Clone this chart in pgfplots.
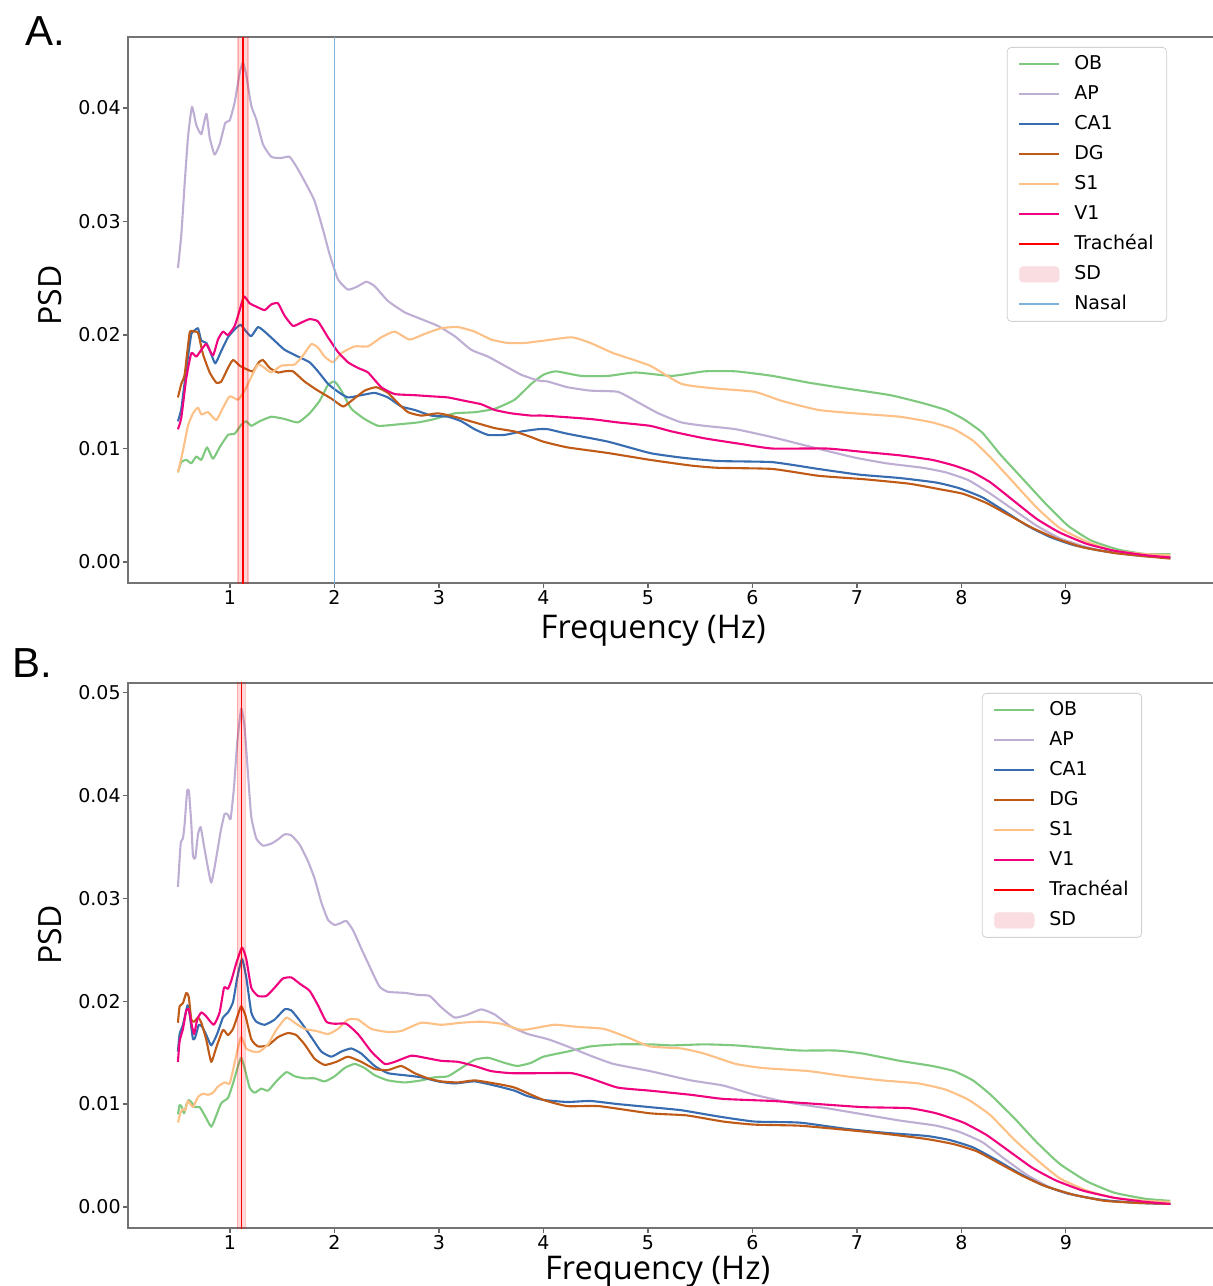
\documentclass[border=0pt]{standalone}
\usepackage{fontspec}
\setmainfont{DejaVu Sans}
\newfontfamily\labelfont{Open Sans}
\newfontfamily\panelfont{Liberation Sans}
\usepackage{pgfplots}
\pgfplotsset{compat=1.18}
\definecolor{cOB}{HTML}{7FC97F}
\definecolor{cAP}{HTML}{BEAED4}
\definecolor{cCA}{HTML}{386CB0}
\definecolor{cDG}{HTML}{BF5B17}
\definecolor{cSI}{HTML}{FDC086}
\definecolor{cVI}{HTML}{F0027F}
\definecolor{cNas}{HTML}{7DB2DC}
\definecolor{cSD}{RGB}{249,221,224}
\pgfplotsset{
 psd/.style={
  scale only axis, width=546pt, xmin=0.024, xmax=10.475,
  xtick={1,2,3,4,5,6,7,8,9},
  axis line style={black!55, line width=0.7pt},
  tick style={black!60, line width=0.6pt},
  major tick length=2.5pt, tick align=outside, xtick pos=bottom, ytick pos=left,
  tick label style={font=\fontsize{9.5}{11}\selectfont, inner sep=1pt},
  /pgf/number format/assume math mode=true,
  scaled y ticks=false,
  yticklabel style={/pgf/number format/fixed, /pgf/number format/fixed zerofill, /pgf/number format/precision=2},
  xlabel={Frequency (Hz)}, ylabel={PSD},
  legend cell align=left,
  legend style={font=\fontsize{9.5}{11}\selectfont, draw=black!18, rounded corners=2pt, fill=white, anchor=north east,
    inner xsep=5.5pt, inner ysep=3pt, row sep=4pt, column sep=6pt,
    nodes={inner sep=1pt, text height=7pt, text depth=2pt}},
  legend image code/.code={\draw[#1, line width=1pt] (0pt,0pt) -- (20pt,0pt);},
  every axis plot/.append style={line width=1.05pt, line join=round},
 },
 ser/.style={#1, smooth, tension=0.3},
 vline/.style={#1, line width=0.75pt},
}
\begin{document}
\begin{tikzpicture}
\path[use as bounding box] (-64pt,-351.5pt) rectangle (542pt,291.5pt);
\node[font=\panelfont\fontsize{21}{24}\selectfont, anchor=base west, inner sep=0pt] at (-51.5pt,268.5pt) {A.};
\node[font=\panelfont\fontsize{21}{24}\selectfont, anchor=base west, inner sep=0pt] at (-58pt,-47pt) {B.};
% ---------------- Panel A
\begin{axis}[psd, at={(0pt,0pt)}, anchor=south west, height=273pt,
  ymin=-0.00185, ymax=0.04626, ytick={0,0.01,0.02,0.03,0.04},
  every axis x label/.style={at={(axis description cs:0.481,0)}, anchor=base, yshift=-27.5pt, inner sep=0pt, font=\labelfont\fontsize{16.3}{19}\selectfont},
  every axis y label/.style={at={(axis description cs:-0.0714,0.527)}, rotate=90, anchor=center, font=\labelfont\fontsize{16}{19}\selectfont},
  legend style={at={(axis description cs:0.9515,0.9817)}}]
\addplot[ser=cOB] coordinates {(0.502,0.0079)(0.534,0.0088)(0.582,0.0090)(0.630,0.0087)(0.678,0.0093)(0.726,0.0090)(0.780,0.0101)(0.837,0.0091)(0.901,0.0101)(0.981,0.0112)(1.045,0.0113)(1.108,0.0121)(1.156,0.0124)(1.204,0.0120)(1.284,0.0124)(1.396,0.0128)(1.523,0.0126)(1.651,0.0123)(1.762,0.0131)(1.858,0.0142)(1.938,0.0156)(2.002,0.0159)(2.066,0.0151)(2.162,0.0135)(2.289,0.0126)(2.417,0.0120)(2.576,0.0121)(2.799,0.0123)(2.959,0.0126)(3.150,0.0131)(3.341,0.0132)(3.533,0.0135)(3.724,0.0143)(3.884,0.0157)(4.0,0.0165)(4.12,0.0168)(4.36,0.0164)(4.62,0.0164)(4.88,0.0167)(5.23,0.0164)(5.54,0.0168)(5.84,0.0168)(6.19,0.0164)(6.54,0.0158)(6.89,0.0153)(7.32,0.0147)(7.63,0.0140)(7.85,0.0134)(8.02,0.0126)(8.20,0.0114)(8.37,0.0095)(8.59,0.0073)(8.81,0.0051)(9.02,0.0032)(9.24,0.0019)(9.50,0.0011)(9.76,0.0007)(10.0,0.0007)};
\addlegendentry{OB}
\addplot[ser=cAP] coordinates {(0.502,0.0259)(0.534,0.0288)(0.566,0.0333)(0.598,0.0374)(0.636,0.0401)(0.678,0.0385)(0.726,0.0377)(0.774,0.0395)(0.806,0.0374)(0.853,0.0359)(0.901,0.0368)(0.955,0.0387)(0.997,0.0389)(1.045,0.0405)(1.093,0.0431)(1.124,0.0440)(1.156,0.0429)(1.204,0.0402)(1.252,0.0390)(1.316,0.0368)(1.396,0.0357)(1.491,0.0356)(1.571,0.0357)(1.651,0.0346)(1.746,0.0330)(1.810,0.0318)(1.890,0.0293)(1.954,0.0271)(2.034,0.0249)(2.129,0.0240)(2.225,0.0243)(2.305,0.0247)(2.385,0.0243)(2.512,0.0230)(2.672,0.0220)(2.831,0.0214)(2.991,0.0208)(3.150,0.0199)(3.309,0.0187)(3.469,0.0181)(3.628,0.0173)(3.788,0.0165)(3.947,0.0160)(4.043,0.0159)(4.23,0.0154)(4.45,0.0151)(4.71,0.0150)(4.88,0.0142)(5.10,0.0131)(5.32,0.0123)(5.54,0.0120)(5.84,0.0117)(6.19,0.0110)(6.45,0.0104)(6.71,0.0098)(6.98,0.0092)(7.28,0.0087)(7.63,0.0083)(7.85,0.0079)(8.07,0.0072)(8.28,0.0060)(8.50,0.0046)(8.72,0.0032)(8.94,0.0021)(9.20,0.0013)(9.46,0.0008)(9.76,0.0005)(10.0,0.0004)};
\addlegendentry{AP}
\addplot[ser=cCA] coordinates {(0.502,0.0124)(0.534,0.0135)(0.582,0.0170)(0.630,0.0201)(0.662,0.0204)(0.694,0.0206)(0.726,0.0195)(0.774,0.0193)(0.821,0.0183)(0.86,0.0175)(0.917,0.0186)(0.981,0.0198)(1.045,0.0205)(1.102,0.0209)(1.156,0.0203)(1.204,0.0199)(1.268,0.0207)(1.332,0.0203)(1.427,0.0195)(1.523,0.0187)(1.651,0.0181)(1.762,0.0176)(1.842,0.0168)(1.938,0.0157)(2.034,0.0150)(2.129,0.0145)(2.257,0.0147)(2.385,0.0149)(2.512,0.0145)(2.640,0.0137)(2.767,0.0134)(2.927,0.0129)(3.086,0.0128)(3.214,0.0124)(3.341,0.0117)(3.469,0.0112)(3.628,0.0112)(3.788,0.0115)(3.947,0.0117)(4.043,0.0117)(4.23,0.0113)(4.62,0.0106)(5.02,0.0096)(5.32,0.0092)(5.67,0.0089)(6.19,0.0088)(6.63,0.0082)(7.02,0.0077)(7.41,0.0074)(7.76,0.0070)(7.98,0.0065)(8.20,0.0057)(8.41,0.0045)(8.63,0.0032)(8.85,0.0022)(9.07,0.0015)(9.33,0.0010)(9.68,0.0006)(10.0,0.0004)};
\addlegendentry{CA1}
\addplot[ser=cDG] coordinates {(0.502,0.0145)(0.534,0.0157)(0.566,0.0165)(0.614,0.0202)(0.654,0.0203)(0.694,0.0202)(0.742,0.0183)(0.806,0.0167)(0.869,0.0158)(0.917,0.0159)(0.981,0.0171)(1.029,0.0178)(1.093,0.0173)(1.156,0.0170)(1.22,0.0168)(1.276,0.0176)(1.316,0.0178)(1.38,0.0171)(1.459,0.0167)(1.523,0.0168)(1.603,0.0168)(1.714,0.0159)(1.842,0.0151)(1.97,0.0144)(2.082,0.0137)(2.162,0.0142)(2.289,0.0151)(2.401,0.0154)(2.512,0.0149)(2.608,0.0140)(2.704,0.0132)(2.831,0.0129)(2.991,0.0131)(3.150,0.0128)(3.341,0.0123)(3.533,0.0118)(3.724,0.0115)(3.884,0.0110)(4.0,0.0106)(4.23,0.0101)(4.62,0.0096)(5.02,0.0090)(5.41,0.0085)(5.67,0.0083)(6.19,0.0082)(6.63,0.0076)(7.06,0.0073)(7.50,0.0069)(7.80,0.0064)(8.02,0.0060)(8.24,0.0052)(8.46,0.0041)(8.68,0.0030)(8.90,0.0021)(9.16,0.0013)(9.46,0.0008)(9.76,0.0005)(10.0,0.0003)};
\addlegendentry{DG}
\addplot[ser=cSI] coordinates {(0.502,0.0079)(0.55,0.0098)(0.598,0.0120)(0.646,0.0131)(0.694,0.0136)(0.726,0.0130)(0.79,0.0132)(0.869,0.0125)(0.933,0.0136)(0.997,0.0146)(1.077,0.0143)(1.14,0.0151)(1.204,0.0163)(1.268,0.0174)(1.332,0.0171)(1.396,0.0167)(1.491,0.0173)(1.619,0.0174)(1.699,0.0182)(1.778,0.0192)(1.842,0.0189)(1.906,0.0181)(1.986,0.0176)(2.066,0.0184)(2.193,0.0190)(2.321,0.0190)(2.448,0.0198)(2.576,0.0203)(2.719,0.0196)(2.863,0.0201)(3.022,0.0206)(3.182,0.0207)(3.341,0.0203)(3.5,0.0196)(3.66,0.0193)(3.82,0.0193)(4.0,0.0195)(4.27,0.0198)(4.45,0.0193)(4.67,0.0184)(5.02,0.0173)(5.32,0.0157)(5.63,0.0153)(6.02,0.0150)(6.28,0.0142)(6.63,0.0134)(6.98,0.0131)(7.41,0.0128)(7.72,0.0123)(7.93,0.0117)(8.11,0.0107)(8.28,0.0092)(8.50,0.0070)(8.72,0.0048)(8.94,0.0030)(9.20,0.0018)(9.46,0.0010)(9.76,0.0007)(10.0,0.0006)};
\addlegendentry{S1}
\addplot[ser=cVI] coordinates {(0.502,0.0117)(0.534,0.0127)(0.582,0.0162)(0.630,0.0184)(0.678,0.0181)(0.726,0.0187)(0.774,0.0192)(0.837,0.0182)(0.885,0.0196)(0.933,0.0203)(0.981,0.0200)(1.045,0.0208)(1.093,0.0222)(1.134,0.0234)(1.188,0.0228)(1.252,0.0225)(1.332,0.0222)(1.396,0.0227)(1.459,0.0228)(1.523,0.0217)(1.603,0.0208)(1.683,0.0211)(1.762,0.0214)(1.842,0.0212)(1.938,0.0198)(2.034,0.0185)(2.129,0.0176)(2.225,0.0171)(2.321,0.0167)(2.448,0.0154)(2.576,0.0148)(2.767,0.0147)(2.927,0.0146)(3.086,0.0145)(3.246,0.0142)(3.405,0.0139)(3.533,0.0134)(3.692,0.0131)(3.884,0.0129)(4.0,0.0129)(4.45,0.0126)(4.71,0.0123)(5.02,0.0120)(5.23,0.0115)(5.54,0.0109)(5.89,0.0104)(6.19,0.0100)(6.71,0.0100)(7.06,0.0097)(7.41,0.0094)(7.72,0.0090)(7.93,0.0085)(8.11,0.0079)(8.28,0.0070)(8.50,0.0054)(8.72,0.0038)(8.94,0.0026)(9.20,0.0016)(9.46,0.0010)(9.76,0.0006)(10.0,0.0004)};
\addlegendentry{V1}
\addplot[vline=red] coordinates {(1.125,-0.01)(1.125,0.06)};
\addlegendentry{Trachéal}
\addplot[fill=red, fill opacity=0.15, draw=red, draw opacity=0.22, line width=0.6pt,
  legend image code/.code={\fill[cSD, fill opacity=1] (0pt,-4pt) rectangle (20pt,4pt);}]
  coordinates {(1.077,-0.01)(1.077,0.06)(1.172,0.06)(1.172,-0.01)} -- cycle;
\addlegendentry{SD}
\addplot[vline=cNas] coordinates {(2.0,-0.01)(2.0,0.06)};
\addlegendentry{Nasal}
\end{axis}
% ---------------- Panel B
\begin{axis}[psd, at={(0pt,-322.5pt)}, anchor=south west, height=272.5pt,
  ymin=-0.00204, ymax=0.0509, ytick={0,0.01,0.02,0.03,0.04,0.05},
  every axis x label/.style={at={(axis description cs:0.485,0)}, anchor=base, yshift=-25.5pt, inner sep=0pt, font=\labelfont\fontsize{16.3}{19}\selectfont},
  every axis y label/.style={at={(axis description cs:-0.0714,0.538)}, rotate=90, anchor=center, font=\labelfont\fontsize{16}{19}\selectfont},
  legend style={at={(axis description cs:0.9286,0.9817)}}]
\addplot[ser=cOB] coordinates {(0.502,0.0090)(0.518,0.0099)(0.54,0.0097)(0.56,0.0091)(0.582,0.0099)(0.606,0.0104)(0.638,0.0101)(0.662,0.0097)(0.71,0.0097)(0.758,0.0089)(0.821,0.0078)(0.869,0.0089)(0.917,0.0101)(0.981,0.0106)(1.029,0.0120)(1.077,0.0137)(1.108,0.0145)(1.14,0.0135)(1.188,0.0116)(1.236,0.0111)(1.3,0.0115)(1.364,0.0113)(1.443,0.0122)(1.539,0.0131)(1.619,0.0127)(1.714,0.0125)(1.81,0.0125)(1.906,0.0122)(2.002,0.0127)(2.097,0.0135)(2.193,0.0139)(2.289,0.0135)(2.385,0.0128)(2.512,0.0123)(2.672,0.0121)(2.831,0.0123)(2.959,0.0126)(3.086,0.0127)(3.214,0.0135)(3.341,0.0143)(3.469,0.0145)(3.628,0.0140)(3.75,0.0137)(3.88,0.0140)(4.0,0.0146)(4.23,0.0151)(4.45,0.0156)(4.71,0.0158)(5.02,0.0158)(5.23,0.0157)(5.54,0.0158)(5.84,0.0157)(6.19,0.0154)(6.45,0.0152)(6.80,0.0152)(7.06,0.0149)(7.41,0.0142)(7.72,0.0137)(7.93,0.0132)(8.11,0.0123)(8.28,0.0109)(8.50,0.0087)(8.72,0.0063)(8.94,0.0042)(9.20,0.0025)(9.46,0.0014)(9.76,0.0008)(10.0,0.0006)};
\addlegendentry{OB}
\addplot[ser=cAP] coordinates {(0.502,0.0311)(0.528,0.0353)(0.55,0.0358)(0.566,0.0372)(0.59,0.0404)(0.608,0.0403)(0.63,0.0372)(0.646,0.0341)(0.668,0.0339)(0.694,0.0362)(0.719,0.0369)(0.751,0.0351)(0.79,0.0329)(0.821,0.0315)(0.86,0.0334)(0.911,0.0365)(0.949,0.0382)(0.981,0.0381)(1.006,0.0377)(1.038,0.0407)(1.07,0.0452)(1.108,0.0484)(1.14,0.0466)(1.172,0.0421)(1.204,0.0379)(1.252,0.0358)(1.316,0.0351)(1.396,0.0353)(1.459,0.0357)(1.523,0.0362)(1.587,0.0361)(1.667,0.0352)(1.746,0.0336)(1.81,0.0319)(1.874,0.0296)(1.938,0.0279)(2.002,0.0274)(2.066,0.0276)(2.113,0.0278)(2.177,0.0269)(2.257,0.0251)(2.353,0.0230)(2.432,0.0214)(2.512,0.0209)(2.672,0.0208)(2.799,0.0206)(2.911,0.0205)(3.022,0.0194)(3.150,0.0184)(3.278,0.0187)(3.405,0.0192)(3.533,0.0187)(3.692,0.0175)(3.852,0.0168)(4.043,0.0163)(4.23,0.0156)(4.45,0.0147)(4.67,0.0139)(5.02,0.0132)(5.41,0.0123)(5.72,0.0118)(6.02,0.0109)(6.37,0.0101)(6.71,0.0096)(7.06,0.0090)(7.41,0.0084)(7.76,0.0079)(7.98,0.0073)(8.20,0.0063)(8.41,0.0047)(8.63,0.0031)(8.85,0.0019)(9.11,0.0011)(9.42,0.0006)(9.76,0.0004)(10.0,0.0003)};
\addlegendentry{AP}
\addplot[ser=cCA] coordinates {(0.502,0.0151)(0.518,0.0168)(0.55,0.0177)(0.594,0.0196)(0.614,0.0187)(0.646,0.0163)(0.668,0.0165)(0.702,0.0177)(0.734,0.0175)(0.774,0.0167)(0.821,0.0157)(0.877,0.0168)(0.933,0.0184)(0.981,0.0189)(1.029,0.0199)(1.07,0.0223)(1.115,0.0241)(1.156,0.0223)(1.204,0.0189)(1.252,0.0180)(1.332,0.0177)(1.427,0.0182)(1.523,0.0192)(1.587,0.0191)(1.683,0.0179)(1.778,0.0165)(1.874,0.0151)(1.97,0.0146)(2.066,0.0151)(2.161,0.0154)(2.257,0.0149)(2.385,0.0137)(2.512,0.0130)(2.672,0.0128)(2.831,0.0126)(2.991,0.0122)(3.150,0.0120)(3.341,0.0122)(3.533,0.0118)(3.724,0.0113)(3.84,0.0108)(4.0,0.0104)(4.23,0.0102)(4.45,0.0103)(4.71,0.0100)(5.02,0.0097)(5.32,0.0094)(5.67,0.0088)(6.02,0.0083)(6.45,0.0082)(6.89,0.0076)(7.28,0.0072)(7.67,0.0069)(7.89,0.0065)(8.11,0.0058)(8.33,0.0046)(8.55,0.0033)(8.76,0.0022)(9.02,0.0013)(9.33,0.0007)(9.68,0.0004)(10.0,0.0003)};
\addlegendentry{CA1}
\addplot[ser=cDG] coordinates {(0.502,0.0179)(0.518,0.0195)(0.55,0.0198)(0.582,0.0208)(0.606,0.0204)(0.63,0.0182)(0.657,0.0180)(0.694,0.0184)(0.726,0.0179)(0.774,0.0162)(0.821,0.0141)(0.869,0.0155)(0.933,0.0172)(0.981,0.0167)(1.029,0.0173)(1.077,0.0187)(1.108,0.0195)(1.148,0.0186)(1.204,0.0163)(1.268,0.0156)(1.364,0.0157)(1.459,0.0165)(1.555,0.0169)(1.635,0.0167)(1.714,0.0158)(1.81,0.0144)(1.906,0.0138)(2.018,0.0141)(2.129,0.0146)(2.257,0.0141)(2.385,0.0134)(2.512,0.0133)(2.640,0.0137)(2.767,0.0130)(2.895,0.0125)(3.022,0.0122)(3.182,0.0121)(3.341,0.0123)(3.533,0.0120)(3.724,0.0116)(4.0,0.0104)(4.23,0.0098)(4.53,0.0098)(5.02,0.0091)(5.37,0.0089)(5.72,0.0083)(6.02,0.0080)(6.45,0.0079)(6.89,0.0075)(7.28,0.0071)(7.67,0.0066)(7.93,0.0061)(8.15,0.0054)(8.37,0.0042)(8.59,0.0030)(8.81,0.0020)(9.07,0.0012)(9.37,0.0006)(9.68,0.0004)(10.0,0.0003)};
\addlegendentry{DG}
\addplot[ser=cSI] coordinates {(0.502,0.0082)(0.528,0.0092)(0.55,0.0095)(0.574,0.0094)(0.598,0.0103)(0.646,0.0097)(0.694,0.0107)(0.742,0.0110)(0.79,0.0109)(0.837,0.0111)(0.885,0.0117)(0.949,0.0121)(0.997,0.0120)(1.038,0.0137)(1.077,0.0155)(1.108,0.0165)(1.156,0.0154)(1.22,0.0151)(1.284,0.0151)(1.364,0.0158)(1.443,0.0172)(1.539,0.0184)(1.619,0.0179)(1.714,0.0173)(1.826,0.0171)(1.938,0.0168)(2.034,0.0173)(2.129,0.0182)(2.225,0.0182)(2.353,0.0173)(2.512,0.0170)(2.640,0.0171)(2.831,0.0179)(3.022,0.0177)(3.214,0.0179)(3.405,0.0180)(3.596,0.0178)(3.80,0.0172)(4.10,0.0177)(4.32,0.0175)(4.58,0.0173)(4.80,0.0165)(5.02,0.0156)(5.32,0.0154)(5.54,0.0149)(5.84,0.0139)(6.10,0.0135)(6.54,0.0132)(6.89,0.0127)(7.24,0.0123)(7.59,0.0120)(7.85,0.0114)(8.07,0.0104)(8.28,0.0089)(8.50,0.0066)(8.72,0.0046)(8.94,0.0028)(9.20,0.0016)(9.46,0.0009)(9.76,0.0006)(10.0,0.0005)};
\addlegendentry{S1}
\addplot[ser=cVI] coordinates {(0.502,0.0141)(0.518,0.0161)(0.55,0.0173)(0.582,0.0191)(0.606,0.0192)(0.63,0.0179)(0.657,0.0168)(0.686,0.0182)(0.726,0.0189)(0.774,0.0185)(0.845,0.0177)(0.901,0.0189)(0.943,0.0213)(0.981,0.0212)(1.013,0.0220)(1.061,0.0237)(1.115,0.0252)(1.156,0.0241)(1.204,0.0213)(1.268,0.0205)(1.348,0.0205)(1.427,0.0213)(1.507,0.0222)(1.587,0.0223)(1.667,0.0217)(1.762,0.0210)(1.842,0.0196)(1.922,0.0180)(2.002,0.0178)(2.113,0.0178)(2.225,0.0168)(2.353,0.0151)(2.481,0.0139)(2.576,0.0141)(2.735,0.0147)(2.863,0.0145)(3.022,0.0142)(3.182,0.0141)(3.341,0.0137)(3.5,0.0132)(3.692,0.0130)(4.0,0.0130)(4.27,0.0130)(4.45,0.0125)(4.71,0.0116)(5.02,0.0113)(5.41,0.0109)(5.72,0.0105)(6.19,0.0103)(6.63,0.0100)(7.06,0.0097)(7.50,0.0096)(7.76,0.0091)(8.02,0.0082)(8.24,0.0070)(8.46,0.0054)(8.68,0.0038)(8.90,0.0026)(9.16,0.0016)(9.46,0.0009)(9.76,0.0005)(10.0,0.0003)};
\addlegendentry{V1}
\addplot[vline=red] coordinates {(1.108,-0.01)(1.108,0.06)};
\addlegendentry{Trachéal}
\addplot[fill=red, fill opacity=0.15, draw=red, draw opacity=0.22, line width=0.6pt,
  legend image code/.code={\fill[cSD, fill opacity=1] (0pt,-4pt) rectangle (20pt,4pt);}]
  coordinates {(1.07,-0.01)(1.07,0.06)(1.146,0.06)(1.146,-0.01)} -- cycle;
\addlegendentry{SD}
\end{axis}
\end{tikzpicture}
\end{document}
